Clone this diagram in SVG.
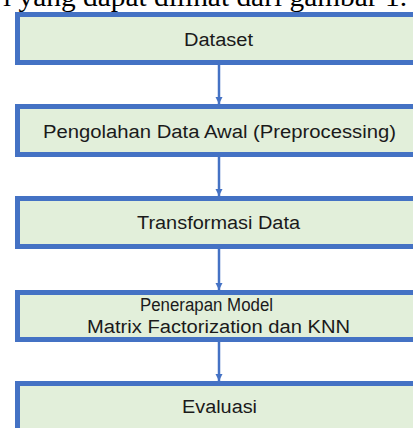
<svg xmlns="http://www.w3.org/2000/svg" width="413" height="428" viewBox="0 0 413 428">
  <style>
    .box { fill: #E2EFDA; stroke: #4472C4; stroke-width: 5; }
    .lbl { font-family: "Liberation Sans", Arial, sans-serif; font-size: 18px; fill: #1a1a1a; }
    .conn { stroke: #4472C4; stroke-width: 2.5; fill: none; }
    .cap { font-family: "Liberation Serif", "Times New Roman", serif; font-size: 28px; fill: #000; }
  </style>
  <defs>
    <marker id="ah" viewBox="0 0 10 10" refX="10" refY="5" markerWidth="3" markerHeight="3" markerUnits="strokeWidth" orient="auto">
      <path d="M0,0 L10,5 L0,10 Z" fill="#4472C4"/>
    </marker>
  </defs>
  <rect width="413" height="428" fill="#ffffff"/>
  <text class="cap" x="3" y="6" textLength="404" lengthAdjust="spacingAndGlyphs">i yang dapat dilihat dari gambar 1.</text>

  <g id="connectors">
    <line class="conn" x1="219" y1="65" x2="219" y2="104" marker-end="url(#ah)"/>
    <line class="conn" x1="219" y1="157" x2="219" y2="196" marker-end="url(#ah)"/>
    <line class="conn" x1="219" y1="249" x2="219" y2="290" marker-end="url(#ah)"/>
    <line class="conn" x1="219" y1="342" x2="219" y2="381" marker-end="url(#ah)"/>
  </g>

  <g id="node-dataset">
    <rect class="box" x="17.5" y="14.5" width="403" height="48"/>
    <text class="lbl" x="184" y="46" textLength="69" lengthAdjust="spacingAndGlyphs">Dataset</text>
  </g>
  <g id="node-preprocessing">
    <rect class="box" x="17.5" y="106.5" width="403" height="48"/>
    <text class="lbl" x="43" y="138" textLength="353" lengthAdjust="spacingAndGlyphs">Pengolahan Data Awal (Preprocessing)</text>
  </g>
  <g id="node-transformasi">
    <rect class="box" x="17.5" y="198.5" width="403" height="48"/>
    <text class="lbl" x="137" y="229" textLength="163" lengthAdjust="spacingAndGlyphs">Transformasi Data</text>
  </g>
  <g id="node-model">
    <rect class="box" x="17.5" y="292.5" width="403" height="47"/>
    <text class="lbl" x="140" y="311" textLength="133" lengthAdjust="spacingAndGlyphs">Penerapan Model</text>
    <text class="lbl" x="87" y="333" textLength="263" lengthAdjust="spacingAndGlyphs">Matrix Factorization dan KNN</text>
  </g>
  <g id="node-evaluasi">
    <rect class="box" x="17.5" y="383.5" width="403" height="60"/>
    <text class="lbl" x="182" y="413" textLength="75" lengthAdjust="spacingAndGlyphs">Evaluasi</text>
  </g>
</svg>
